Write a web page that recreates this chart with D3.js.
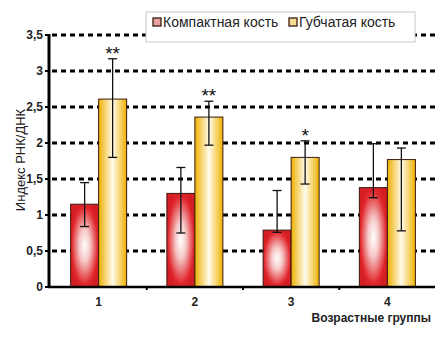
<!DOCTYPE html>
<head>
  <meta charset="utf-8">
  <title>Индекс РНК/ДНК</title>
  <script src="https://d3js.org/d3.v7.min.js"></script>
  <style>
    body { margin: 0; background: #fff; }
    svg { display: block; font-family: 'Liberation Sans', Arial, sans-serif; }
    .grid-line { stroke: #000; stroke-width: 3; stroke-dasharray: 5,4; }
    .tick-label { font-size: 12px; font-weight: 700; fill: #222; }
    .axis-title { font-size: 12px; font-weight: 700; fill: #222; }
    .y-title { font-size: 13px; fill: #222; }
    .legend text { font-size: 14px; fill: #222; }
    .err { stroke: #111; stroke-width: 1.3; }
    .star { font-size: 19px; fill: #111; text-anchor: middle; }
  </style>
</head>
<body>
  <script>
    // age groups
    var groups = ["1", "2", "3", "4"];
    var seriesNames = ["Компактная кость", "Губчатая кость"];

    // bar heights
    var compact = [1.15, 1.30, 0.79, 1.38];
    var spongy  = [2.61, 2.36, 1.80, 1.77];

    // error bar ends (lower / upper)
    var compactLow  = [0.84, 0.75, 0.76, 1.24];
    var compactHigh = [1.45, 1.66, 1.34, 1.99];
    var spongyLow   = [1.80, 1.97, 1.43, 0.78];
    var spongyHigh  = [3.17, 2.58, 2.03, 1.93];

    var stars = ["**", "**", "*", ""];

    var yTicks = [0, 0.5, 1, 1.5, 2, 2.5, 3, 3.5];

    var W = 443, H = 337;
    var svg = d3.select("body").append("svg")
      .attr("width", W)
      .attr("height", H);

    var defs = svg.append("defs");
    var rg = defs.append("radialGradient").attr("id", "redGrad")
      .attr("cx", "50%").attr("cy", "50%").attr("r", "55%");
    rg.append("stop").attr("offset", "0%").attr("stop-color", "#ffffff");
    rg.append("stop").attr("offset", "35%").attr("stop-color", "#f6c8c8");
    rg.append("stop").attr("offset", "85%").attr("stop-color", "#e0262b");
    rg.append("stop").attr("offset", "100%").attr("stop-color", "#d41e24");

    var yg = defs.append("linearGradient").attr("id", "yelGrad")
      .attr("x1", "0%").attr("x2", "100%").attr("y1", "0%").attr("y2", "0%");
    yg.append("stop").attr("offset", "0%").attr("stop-color", "#eeb000");
    yg.append("stop").attr("offset", "50%").attr("stop-color", "#fffbec");
    yg.append("stop").attr("offset", "100%").attr("stop-color", "#efb200");

    var y = d3.scaleLinear().domain([0, 3.5]).range([287, 35]);
    var x = d3.scaleBand().domain(groups).range([50.5, 435.5])
      .paddingInner(0.418).paddingOuter(0.209);
    var x1 = d3.scaleBand().domain([0, 1]).range([0, x.bandwidth()]);

    // grid
    svg.append("g").selectAll("line")
      .data(yTicks.filter(d => d > 0))
      .enter().append("line")
        .attr("class", "grid-line")
        .attr("x1", 52).attr("x2", 436)
        .attr("y1", d => y(d)).attr("y2", d => y(d));

    var data = groups.map((g, i) => ({
      group: g,
      bars: [
        {k: 0, v: compact[i], lo: compactLow[i], hi: compactHigh[i]},
        {k: 1, v: spongy[i], lo: spongyLow[i], hi: spongyHigh[i]}
      ],
      star: stars[i]
    }));

    var gGroups = svg.append("g").selectAll("g")
      .data(data)
      .enter().append("g")
        .attr("transform", d => "translate(" + x(d.group) + ",0)");

    gGroups.selectAll("rect")
      .data(d => d.bars)
      .enter().append("rect")
        .attr("x", d => x1(d.k))
        .attr("width", x1.bandwidth())
        .attr("y", d => y(d.v))
        .attr("height", d => y(0) - y(d.v))
        .attr("fill", d => d.k === 0 ? "url(#redGrad)" : "url(#yelGrad)")
        .attr("stroke", "#3a1a10")
        .attr("stroke-width", 1);

    // error bars
    var err = gGroups.selectAll("g.errbar")
      .data(d => d.bars)
      .enter().append("g")
        .attr("class", "errbar")
        .attr("transform", d => "translate(" + (x1(d.k) + x1.bandwidth() / 2) + ",0)");
    err.append("line").attr("class", "err")
      .attr("y1", d => y(d.lo)).attr("y2", d => y(d.hi));
    err.append("line").attr("class", "err")
      .attr("x1", -4.5).attr("x2", 4.5)
      .attr("y1", d => y(d.lo)).attr("y2", d => y(d.lo));
    err.append("line").attr("class", "err")
      .attr("x1", -4.5).attr("x2", 4.5)
      .attr("y1", d => y(d.hi)).attr("y2", d => y(d.hi));

    gGroups.append("text")
      .attr("class", "star")
      .attr("x", x1(1) + x1.bandwidth() / 2)
      .attr("y", d => y(d.bars[1].hi) + 1)
      .text(d => d.star);

    // axes
    svg.append("line")
      .attr("x1", 49).attr("x2", 49).attr("y1", y(3.5) - 1).attr("y2", y(0) + 1)
      .attr("stroke", "#000").attr("stroke-width", 3);
    svg.append("line")
      .attr("x1", 48).attr("x2", 435).attr("y1", y(0)).attr("y2", y(0))
      .attr("stroke", "#000").attr("stroke-width", 2.5);

    svg.append("g").selectAll("line")
      .data(yTicks)
      .enter().append("line")
        .attr("x1", 45).attr("x2", 49)
        .attr("y1", d => y(d)).attr("y2", d => y(d))
        .attr("stroke", "#000").attr("stroke-width", 2);

    svg.append("g").selectAll("line")
      .data(groups.slice(1))
      .enter().append("line")
        .attr("x1", d => x(d) - x.step() * x.paddingInner() / 2)
        .attr("x2", d => x(d) - x.step() * x.paddingInner() / 2)
        .attr("y1", y(0)).attr("y2", y(0) + 3)
        .attr("stroke", "#000").attr("stroke-width", 2);

    svg.append("g").selectAll("text")
      .data(yTicks)
      .enter().append("text")
        .attr("class", "tick-label")
        .attr("text-anchor", "end")
        .attr("x", 43)
        .attr("y", d => y(d) + 4)
        .text(d => String(d).replace(".", ","));

    svg.append("g").selectAll("text")
      .data(groups)
      .enter().append("text")
        .attr("class", "tick-label")
        .attr("text-anchor", "middle")
        .attr("x", d => x(d) + x.bandwidth() / 2)
        .attr("y", 306)
        .text(d => d);

    svg.append("text")
      .attr("class", "axis-title")
      .attr("text-anchor", "end")
      .attr("x", 431).attr("y", 322)
      .text("Возрастные группы");

    svg.append("text")
      .attr("class", "y-title")
      .attr("text-anchor", "middle")
      .attr("transform", "translate(25,160) rotate(-90)")
      .text("Индекс РНК/ДНК");

    // legend
    var legend = svg.append("g").attr("class", "legend");
    legend.append("rect")
      .attr("x", 146).attr("y", 12).attr("width", 269).attr("height", 30)
      .attr("fill", "#fff").attr("stroke", "#c8c8c8").attr("stroke-width", 1);
    var swatchFill = ["#e8a0a4", "#f4dc90"];
    var legX = [153, 289];
    seriesNames.forEach((name, i) => {
      legend.append("rect")
        .attr("x", legX[i]).attr("y", 18).attr("width", 8).attr("height", 8)
        .attr("fill", swatchFill[i]).attr("stroke", "#3a1a10").attr("stroke-width", 1.3);
      legend.append("text")
        .attr("x", legX[i] + 10).attr("y", 27)
        .text(name);
    });
  </script>
</body>
